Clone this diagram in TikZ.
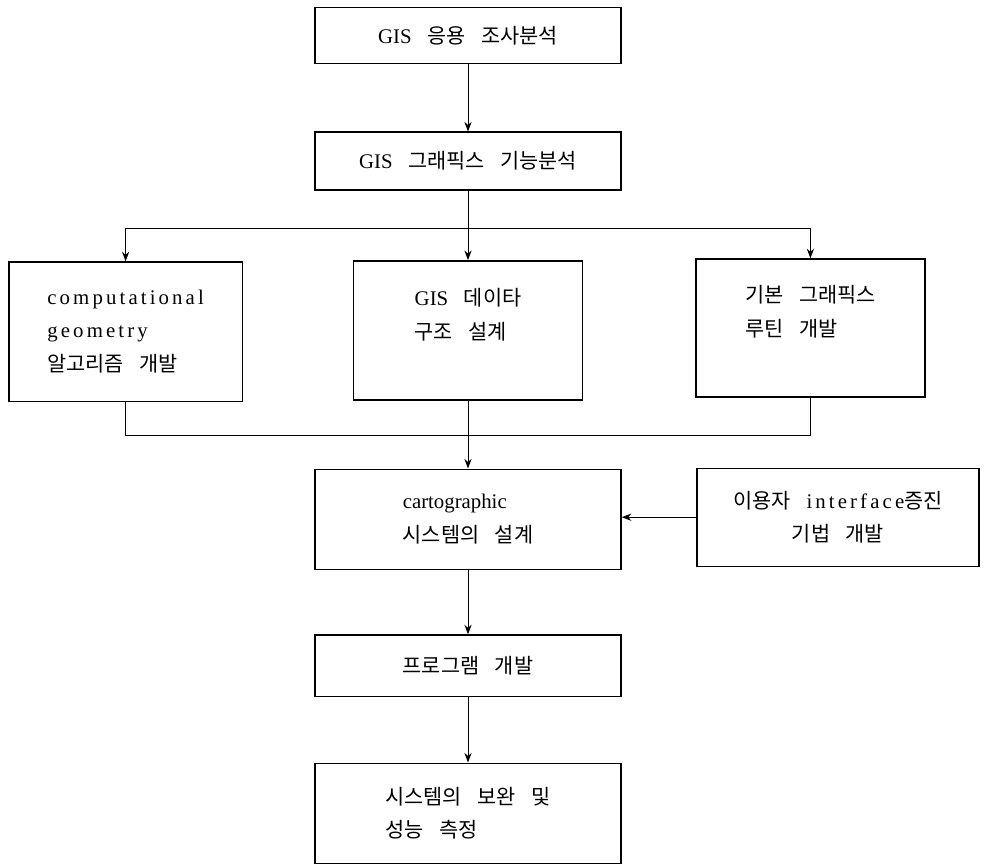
\documentclass[tikz,border=0pt]{standalone}
\usepackage{fontspec}
\setmainfont{Liberation Serif}
\newfontfamily\krfont{Noto Sans CJK KR}
\newcommand{\hg}[1]{{\krfont #1}}
\newcommand{\spaced}[1]{{\addfontfeature{LetterSpace=15}#1}}
\newcommand{\boxfont}{\fontsize{14.8}{24}\selectfont\spaceskip=0.75em\relax}
\usetikzlibrary{positioning, arrows.meta}

\begin{document}
\begin{tikzpicture}[
  stage/.style={rectangle,draw,line width=1pt,minimum width=7.65cm,minimum height=1.4cm,align=left},
  flow/.style={draw,line width=0.7pt,->,>={Stealth[length=2.4mm,width=1.8mm]}},
  link/.style={draw,line width=0.7pt},
  font=\boxfont
]
\useasboundingbox (0,0) rectangle (24.6,-21.625);

% Stages of the work
\node[stage] (survey) at (11.7,-0.89) {GIS \hg{응용 조사분석}};
\node[stage, minimum height=1.45cm] (func) at (11.7,-4.03) {GIS \hg{그래픽스 기능분석}};
\node[stage, minimum width=5.83cm, minimum height=3.48cm] (geom) at (3.14,-8.29)
  {\spaced{computational}\\\spaced{geometry}\\\hg{알고리즘 개발}};
\node[stage, minimum width=5.73cm, minimum height=3.48cm] (data) at (11.7,-8.26)
  {GIS \hg{데이타}\\\hg{구조 설계}\\\mbox{}};
\node[stage, minimum width=5.73cm, minimum height=3.45cm] (rout) at (20.26,-8.2)
  {\hg{기본 그래픽스}\\\hg{루틴 개발}\\\mbox{}};
\node[stage, minimum height=2.5cm] (carto) at (11.7,-12.98) {cartographic\\\hg{시스템의 설계}};
\node[stage, minimum width=7.05cm, minimum height=2.45cm, align=center] (iface) at (20.95,-12.93)
  {\hg{이용자} \spaced{interface}\hg{증진}\\\hg{기법 개발}};
\node[stage, minimum height=1.53cm] (prog) at (11.7,-16.64) {\hg{프로그램 개발}};
\node[stage, minimum height=2.5cm] (check) at (11.7,-20.33) {\hg{시스템의 보완 및}\\\hg{성능 측정}};

% Branch and join points
\coordinate (split) at (11.7,-5.7);
\coordinate (merge) at (11.7,-10.88);

% Connectors
\draw[flow] (survey) -- (func);
\draw[link] (func) -- (split);
\draw[flow] (split) -- (data);
\draw[flow] (split) -| (geom);
\draw[flow] (split) -| (rout);
\draw[link] (geom) |- (merge) -| (rout);
\draw[flow] (data) -- (carto);
\draw[flow] (iface.west) -- (iface.west -| carto.east);
\draw[flow] (carto) -- (prog);
\draw[flow] (prog) -- (check);

\end{tikzpicture}
\end{document}
